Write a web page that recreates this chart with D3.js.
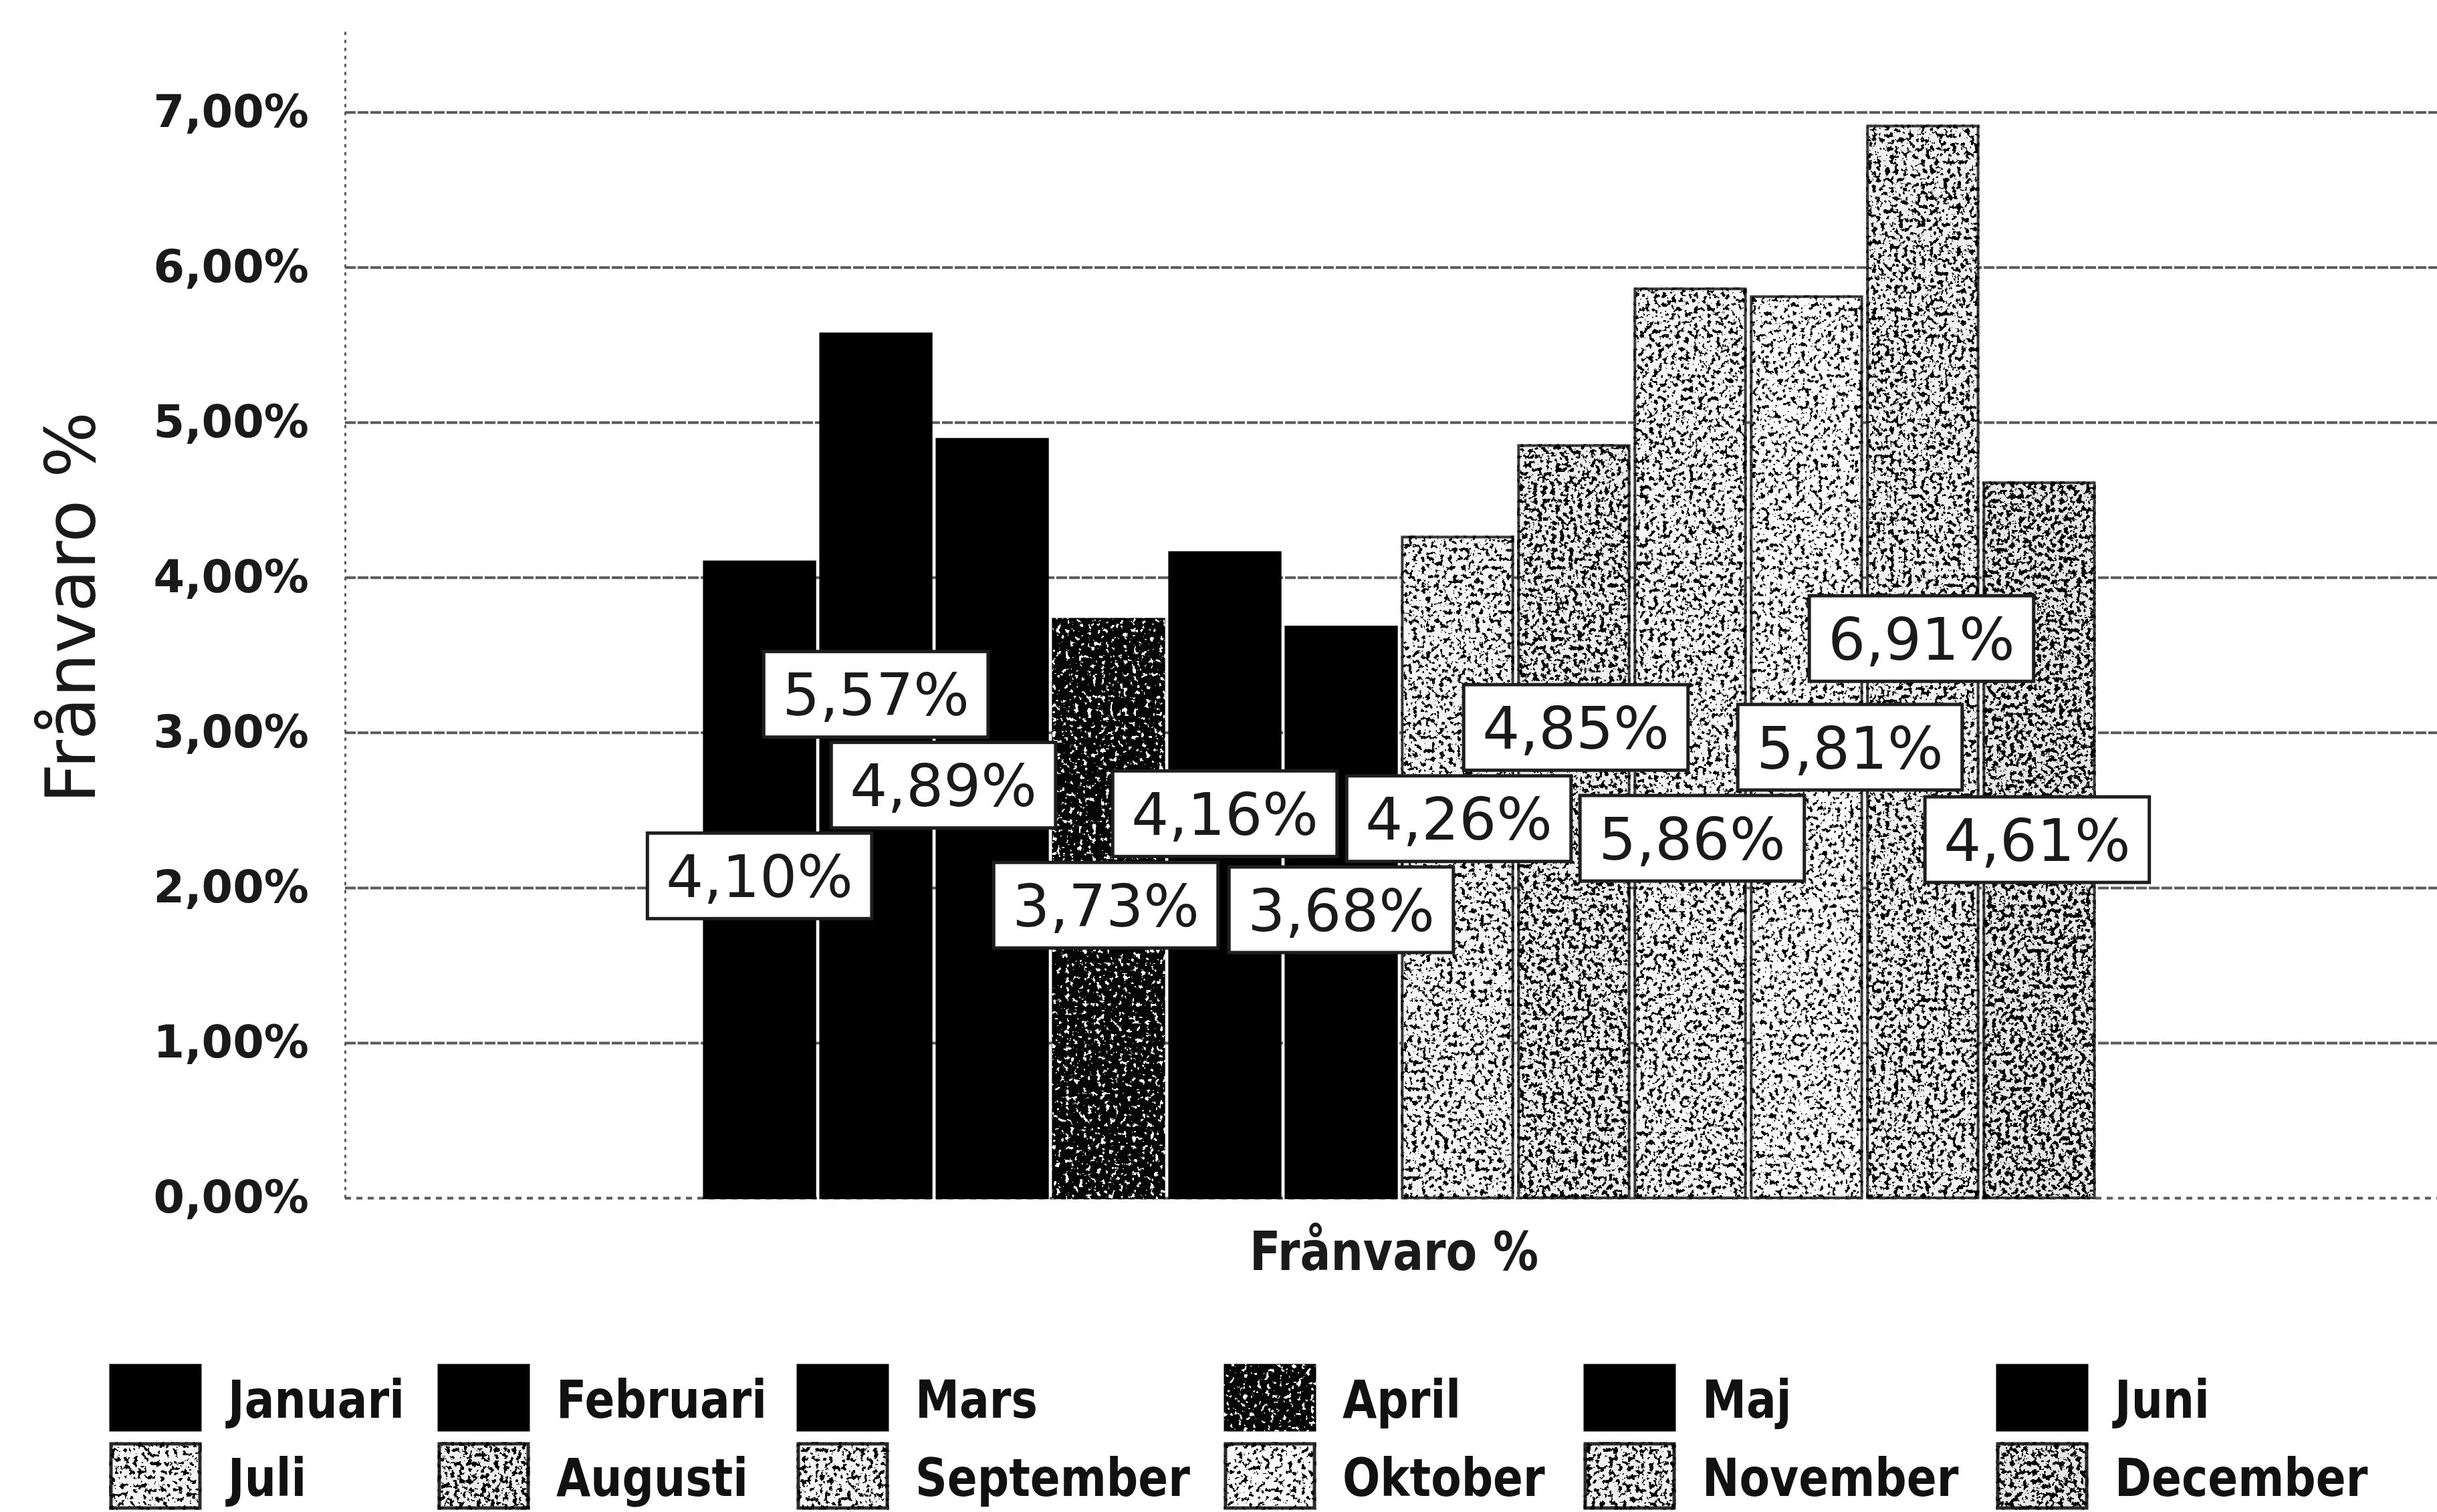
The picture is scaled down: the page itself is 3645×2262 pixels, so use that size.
<!DOCTYPE html>
<html>
<head>
<meta charset="utf-8">
<script src="https://cdn.jsdelivr.net/npm/d3@7"></script>
<style>
  html, body { margin: 0; padding: 0; background: #ffffff; }
  svg { display: block; }
</style>
</head>
<body>
<svg id="chart" width="3645" height="2262"></svg>
<script>
// ---------------- data ----------------
const categories = ["Frånvaro %"];
const months = ["Januari", "Februari", "Mars", "April", "Maj", "Juni",
                "Juli", "Augusti", "September", "Oktober", "November", "December"];
const values = [4.10, 5.57, 4.89, 3.73, 4.16, 3.68, 4.26, 4.85, 5.86, 5.81, 6.91, 4.61];
const yTickValues = [0, 1, 2, 3, 4, 5, 6, 7];
const yAxisTitle = "Frånvaro %";

// ---------------- styles / layout ----------------
const W = 3645, H = 2262;
const plotLeft = 516, plotRight = 3670, plotTop = 40, plotBottom = 1792;
// fill style per month: base colour, speckle colour, speckle threshold (0 = none)
const monthStyle = [
  { base: "#000000", dot: null, thr: 0 },
  { base: "#000000", dot: null, thr: 0 },
  { base: "#000000", dot: null, thr: 0 },
  { base: "#050505", dot: "#ffffff", thr: 0.36 },
  { base: "#000000", dot: null, thr: 0 },
  { base: "#000000", dot: null, thr: 0 },
  { base: "#f4f4f4", dot: "#000000", thr: 0.41 },
  { base: "#ededed", dot: "#000000", thr: 0.445 },
  { base: "#f5f5f5", dot: "#000000", thr: 0.42 },
  { base: "#fafafa", dot: "#000000", thr: 0.40 },
  { base: "#f0f0f0", dot: "#000000", thr: 0.435 },
  { base: "#e6e6e6", dot: "#000000", thr: 0.46 }
];
// label nudges (px) from the bar's mid-height, to avoid collisions
const labelNudge = [[0, -6], [0, -107], [-73, -50], [-4, -5], [0, -92], [0, -4],
                    [2, -73], [3, -141], [3, 142], [65, 0], [-2, -35], [-3, -1]];
const legendColX = [166, 657, 1194, 1833, 2371, 2988];
const legendRowY = [2043, 2160];

const svg = d3.select("#chart");
const defs = svg.append("defs");

// speckle texture filters
monthStyle.forEach((s, i) => {
  if (!s.dot) return;
  const f = defs.append("filter").attr("id", "sp" + i)
    .attr("x", "-5%").attr("y", "-5%").attr("width", "110%").attr("height", "110%")
    .attr("color-interpolation-filters", "sRGB");
  f.append("feTurbulence").attr("type", "fractalNoise").attr("baseFrequency", 0.15)
    .attr("numOctaves", 3).attr("seed", 11 + i * 7).attr("result", "n");
  const k = 6;
  f.append("feColorMatrix").attr("in", "n").attr("type", "matrix")
    .attr("values", `0 0 0 0 0  0 0 0 0 0  0 0 0 0 0  ${-k} 0 0 0 ${0.5 + k * s.thr}`)
    .attr("result", "a");
  f.append("feComponentTransfer").attr("in", "a").attr("result", "b")
    .append("feFuncA").attr("type", "discrete").attr("tableValues", "0 1");
  f.append("feFlood").attr("flood-color", s.dot).attr("result", "c");
  f.append("feComposite").attr("in", "c").attr("in2", "b").attr("operator", "in").attr("result", "d");
  f.append("feComposite").attr("in", "d").attr("in2", "SourceAlpha").attr("operator", "in").attr("result", "e");
  const m = f.append("feMerge");
  m.append("feMergeNode").attr("in", "SourceGraphic");
  m.append("feMergeNode").attr("in", "e");
});

// ---------------- scales ----------------
const y = d3.scaleLinear().domain([0, 7.55]).range([plotBottom, plotTop]);
const x0 = d3.scaleBand().domain(categories).range([plotLeft, plotRight])
  .paddingInner(0).paddingOuter(0.2585);
const x1 = d3.scaleBand().domain(months).range([0, x0.bandwidth()]).paddingInner(0.05);

const locale = d3.formatLocale({ decimal: ",", thousands: "\u00a0", grouping: [3], currency: ["", " kr"] });
const fmt2 = locale.format(".2f");
const pct = v => fmt2(v) + "%";

// ---------------- axis + gridlines ----------------
const yAxis = d3.axisLeft(y).tickValues(yTickValues).tickFormat(pct)
  .tickSize(-(W - plotLeft)).tickSizeOuter(0).tickPadding(54);
const gAxis = svg.append("g").attr("transform", `translate(${plotLeft},0)`).call(yAxis);
gAxis.select(".domain").attr("stroke", "#5e5e5e").attr("stroke-width", 3)
  .attr("stroke-dasharray", "5 7");
gAxis.selectAll(".tick line").attr("stroke", "#5a5a5a").attr("stroke-width", 4)
  .attr("stroke-dasharray", d => d === 0 ? "9 8" : "16 3");
gAxis.selectAll(".tick text")
  .attr("font-family", "'DejaVu Sans', Verdana, sans-serif")
  .attr("font-weight", "bold").attr("font-size", 67).attr("fill", "#1a1a1a");

// ---------------- bars ----------------
const gBars = svg.append("g").selectAll("g").data(categories).join("g")
  .attr("transform", d => `translate(${x0(d)},0)`);
gBars.selectAll("rect").data(months.map((m, i) => ({ m, v: values[i], i })))
  .join("rect")
  .attr("x", d => x1(d.m))
  .attr("y", d => y(d.v))
  .attr("width", x1.bandwidth())
  .attr("height", d => y(0) - y(d.v))
  .attr("fill", d => monthStyle[d.i].base)
  .attr("stroke", d => monthStyle[d.i].dot === "#000000" ? "#3a3a3a" : "#000")
  .attr("stroke-width", 4)
  .attr("filter", d => monthStyle[d.i].dot ? `url(#sp${d.i})` : null);

// ---------------- value labels ----------------
const gLab = svg.append("g");
months.forEach((m, i) => {
  const cx = x0(categories[0]) + x1(m) + x1.bandwidth() / 2 + labelNudge[i][0];
  const cy = (y(values[i]) + y(0)) / 2 + labelNudge[i][1];
  const g = gLab.append("g").attr("transform", `translate(${cx},${cy})`);
  const rect = g.append("rect").attr("fill", "#ffffff").attr("stroke", "#1e1e1e").attr("stroke-width", 5);
  const t = g.append("text").text(pct(values[i]))
    .attr("text-anchor", "middle").attr("dy", "0.36em")
    .attr("font-family", "'DejaVu Sans', Verdana, sans-serif")
    .attr("font-size", 88).attr("fill", "#1a1a1a");
  const bw = t.node().getComputedTextLength() + 56;
  const bh = 128;
  rect.attr("x", -bw / 2).attr("y", -bh / 2).attr("width", bw).attr("height", bh);
});

// ---------------- titles ----------------
svg.append("text").text(yAxisTitle)
  .attr("transform", `translate(142,909) rotate(-90)`)
  .attr("text-anchor", "middle")
  .attr("font-family", "'DejaVu Sans', Verdana, sans-serif")
  .attr("font-size", 104).attr("fill", "#1a1a1a");

svg.append("g")
  .attr("transform", `translate(${x0(categories[0]) + x0.bandwidth() / 2 - 8},1900) scale(0.85,1)`)
  .append("text").text(categories[0])
  .attr("text-anchor", "middle")
  .attr("font-family", "'DejaVu Sans', Verdana, sans-serif")
  .attr("font-weight", "bold").attr("font-size", 80).attr("fill", "#1a1a1a");

// ---------------- legend ----------------
const gLeg = svg.append("g");
months.forEach((m, i) => {
  const col = i % 6, row = Math.floor(i / 6);
  const lx = legendColX[col], ly = legendRowY[row];
  gLeg.append("rect").attr("x", lx).attr("y", ly).attr("width", 133).attr("height", 96)
    .attr("fill", monthStyle[i].base)
    .attr("stroke", monthStyle[i].dot === "#000000" ? "#2a2a2a" : "#000")
    .attr("stroke-width", 5)
    .attr("filter", monthStyle[i].dot ? `url(#sp${i})` : null);
  gLeg.append("g").attr("transform", `translate(${lx + 175},${ly + 78}) scale(0.85,1)`)
    .append("text").text(m)
    .attr("font-family", "'DejaVu Sans', Verdana, sans-serif")
    .attr("font-weight", "bold").attr("font-size", 78).attr("fill", "#111");
});
</script>
</body>
</html>
